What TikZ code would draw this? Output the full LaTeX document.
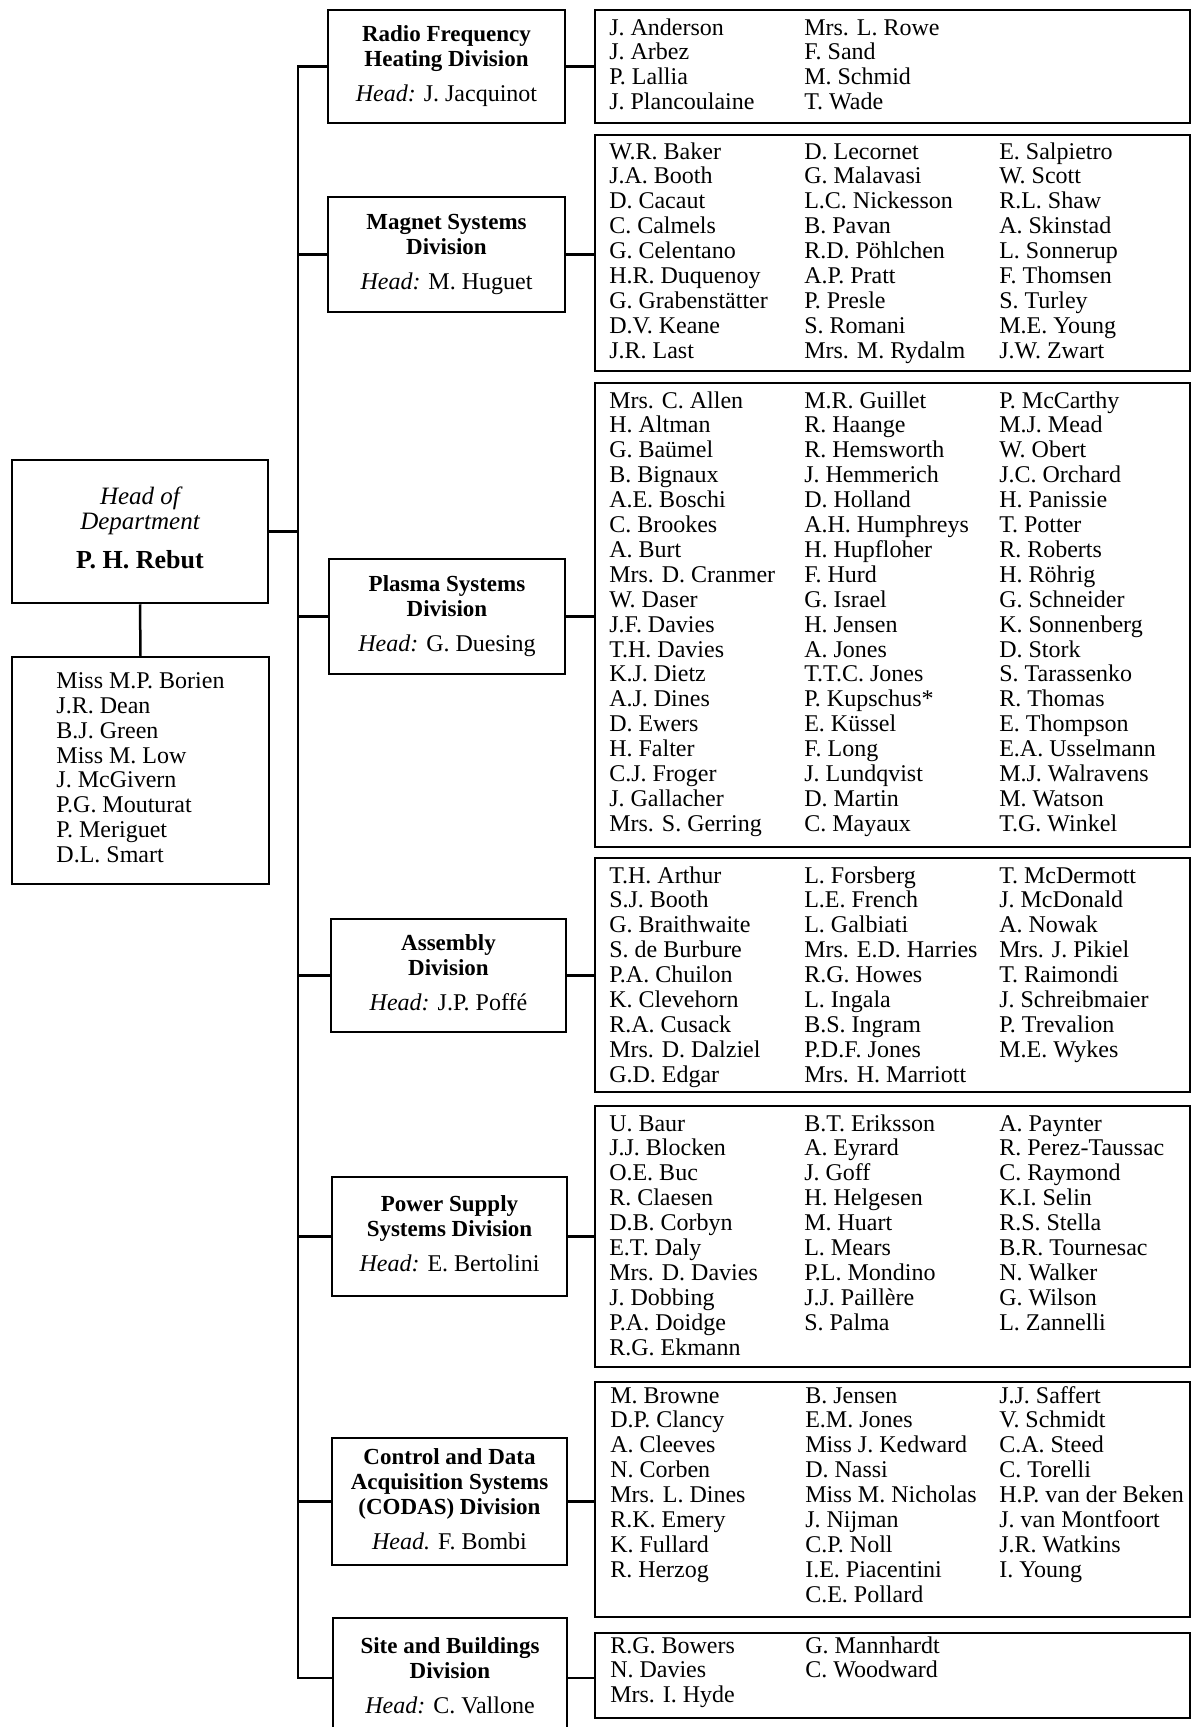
\documentclass[tikz,border=0pt]{standalone}
\usepackage{fontspec}
\setmainfont{Liberation Serif}
\newcommand\namecol[1]{\begin{tabular}[t]{@{}l@{}}#1\end{tabular}}
\newcommand\divhead[2]{\begin{tabular}{@{}c@{}}#1\\[10pt]\normalfont\fontsize{24}{25}\selectfont #2\end{tabular}}
\begin{document}
\begin{tikzpicture}[x=1pt,y=-1pt,line width=2.5pt,
  divbox/.style={draw,inner sep=0pt,minimum width=237pt,font=\fontsize{23}{25}\selectfont\bfseries},
  listbox/.style={draw,inner sep=0pt,minimum width=595pt},
  listtxt/.style={anchor=base west,inner sep=0pt,font=\fontsize{24}{24.9}\selectfont},
  link/.style={line width=2.5pt}]
\useasboundingbox (0,0) rectangle (1192,1727);
\clip (0,0) rectangle (1192,1727);

% Head of department and staff
\node[draw,inner sep=0pt,minimum width=256pt,minimum height=143pt,font=\fontsize{25}{25}\selectfont] (head) at (140,531.5)
  {\begin{tabular}{@{}c@{}}\itshape Head of\\ \itshape Department\\[13pt] \fontsize{26}{25}\selectfont\bfseries P. H. Rebut\end{tabular}};
\node[draw,inner sep=0pt,minimum width=257pt,minimum height=227pt,font=\fontsize{24}{24.8}\selectfont] (staff) at (140.5,770.5)
  {\begin{tabular}{@{}l@{}}Miss M.P. Borien\\J.R. Dean\\B.J. Green\\Miss M. Low\\J. McGivern\\P.G. Mouturat\\P. Meriguet\\D.L. Smart\end{tabular}};

% Divisions
\node[divbox,minimum height=113pt] (rf) at (446.5,66.5)
  {\divhead{Radio Frequency\\Heating Division}{\textit{Head:} J. Jacquinot}};
\node[divbox,minimum height=115pt] (mag) at (446.5,254.5)
  {\divhead{Magnet Systems\\Division}{\textit{Head:} M. Huguet}};
\node[divbox,minimum height=115pt,minimum width=236pt] (pla) at (447,616.5)
  {\divhead{Plasma Systems\\Division}{\textit{Head:} G. Duesing}};
\node[divbox,minimum height=113pt,minimum width=235pt] (asm) at (448.5,975.5)
  {\divhead{Assembly\\Division}{\textit{Head:} J.P. Poffé}};
\node[divbox,minimum height=119pt,minimum width=235pt] (pow) at (449.5,1236.5)
  {\divhead{Power Supply\\Systems Division}{\textit{Head:} E. Bertolini}};
\node[divbox,minimum height=127pt,minimum width=235pt] (cod) at (449.5,1501.5)
  {\divhead{Control and Data\\Acquisition Systems\\(CODAS) Division}{\textit{Head.} F. Bombi}};
\node[divbox,minimum height=120pt,minimum width=234pt] (site) at (450,1678)
  {\divhead{Site and Buildings\\Division}{\textit{Head:} C. Vallone}};

% List boxes
\node[listbox,minimum height=113pt] (rfl) at (892.5,66.5) {};
\node[listbox,minimum height=236pt] (magl) at (892.5,253) {};
\node[listbox,minimum height=464pt] (plal) at (892.5,615) {};
\node[listbox,minimum height=234pt] (asml) at (892.5,975) {};
\node[listbox,minimum height=261pt] (powl) at (892.5,1236.5) {};
\node[listbox,minimum height=235pt] (codl) at (892.5,1499.5) {};
\node[listbox,minimum height=85pt] (sitel) at (892.5,1675.5) {};

% List texts
\node[listtxt] (rfa) at (608,35) {\namecol{J. Anderson\\J. Arbez\\P. Lallia\\J. Plancoulaine}};
\node[listtxt] (rfb) at (803,35) {\namecol{Mrs. L. Rowe\\F. Sand\\M. Schmid\\T. Wade}};

\node[listtxt] (maga) at (608,159) {\namecol{W.R. Baker\\J.A. Booth\\D. Cacaut\\C. Calmels\\G. Celentano\\H.R. Duquenoy\\G. Grabenstätter\\D.V. Keane\\J.R. Last}};
\node[listtxt] (magb) at (803,159) {\namecol{D. Lecornet\\G. Malavasi\\L.C. Nickesson\\B. Pavan\\R.D. Pöhlchen\\A.P. Pratt\\P. Presle\\S. Romani\\Mrs. M. Rydalm}};
\node[listtxt] (magc) at (998,159) {\namecol{E. Salpietro\\W. Scott\\R.L. Shaw\\A. Skinstad\\L. Sonnerup\\F. Thomsen\\S. Turley\\M.E. Young\\J.W. Zwart}};

\node[listtxt] (plaa) at (608,408) {\namecol{Mrs. C. Allen\\H. Altman\\G. Baümel\\B. Bignaux\\A.E. Boschi\\C. Brookes\\A. Burt\\Mrs. D. Cranmer\\W. Daser\\J.F. Davies\\T.H. Davies\\K.J. Dietz\\A.J. Dines\\D. Ewers\\H. Falter\\C.J. Froger\\J. Gallacher\\Mrs. S. Gerring}};
\node[listtxt] (plab) at (803,408) {\namecol{M.R. Guillet\\R. Haange\\R. Hemsworth\\J. Hemmerich\\D. Holland\\A.H. Humphreys\\H. Hupfloher\\F. Hurd\\G. Israel\\H. Jensen\\A. Jones\\T.T.C. Jones\\P. Kupschus*\\E. Küssel\\F. Long\\J. Lundqvist\\D. Martin\\C. Mayaux}};
\node[listtxt] (plac) at (998,408) {\namecol{P. McCarthy\\M.J. Mead\\W. Obert\\J.C. Orchard\\H. Panissie\\T. Potter\\R. Roberts\\H. Röhrig\\G. Schneider\\K. Sonnenberg\\D. Stork\\S. Tarassenko\\R. Thomas\\E. Thompson\\E.A. Usselmann\\M.J. Walravens\\M. Watson\\T.G. Winkel}};

\node[listtxt] (asma) at (608,883) {\namecol{T.H. Arthur\\S.J. Booth\\G. Braithwaite\\S. de Burbure\\P.A. Chuilon\\K. Clevehorn\\R.A. Cusack\\Mrs. D. Dalziel\\G.D. Edgar}};
\node[listtxt] (asmb) at (803,883) {\namecol{L. Forsberg\\L.E. French\\L. Galbiati\\Mrs. E.D. Harries\\R.G. Howes\\L. Ingala\\B.S. Ingram\\P.D.F. Jones\\Mrs. H. Marriott}};
\node[listtxt] (asmc) at (998,883) {\namecol{T. McDermott\\J. McDonald\\A. Nowak\\Mrs. J. Pikiel\\T. Raimondi\\J. Schreibmaier\\P. Trevalion\\M.E. Wykes}};

\node[listtxt] (powa) at (608,1131) {\namecol{U. Baur\\J.J. Blocken\\O.E. Buc\\R. Claesen\\D.B. Corbyn\\E.T. Daly\\Mrs. D. Davies\\J. Dobbing\\P.A. Doidge\\R.G. Ekmann}};
\node[listtxt] (powb) at (803,1131) {\namecol{B.T. Eriksson\\A. Eyrard\\J. Goff\\H. Helgesen\\M. Huart\\L. Mears\\P.L. Mondino\\J.J. Paillère\\S. Palma}};
\node[listtxt] (powc) at (998,1131) {\namecol{A. Paynter\\R. Perez-Taussac\\C. Raymond\\K.I. Selin\\R.S. Stella\\B.R. Tournesac\\N. Walker\\G. Wilson\\L. Zannelli}};

\node[listtxt] (coda) at (609,1403) {\namecol{M. Browne\\D.P. Clancy\\A. Cleeves\\N. Corben\\Mrs. L. Dines\\R.K. Emery\\K. Fullard\\R. Herzog}};
\node[listtxt] (codb) at (804,1403) {\namecol{B. Jensen\\E.M. Jones\\Miss J. Kedward\\D. Nassi\\Miss M. Nicholas\\J. Nijman\\C.P. Noll\\I.E. Piacentini\\C.E. Pollard}};
\node[listtxt] (codc) at (998,1403) {\namecol{J.J. Saffert\\V. Schmidt\\C.A. Steed\\C. Torelli\\H.P. van der Beken\\J. van Montfoort\\J.R. Watkins\\I. Young}};

\node[listtxt] (sitea) at (609,1653) {\namecol{R.G. Bowers\\N. Davies\\Mrs. I. Hyde}};
\node[listtxt] (siteb) at (804,1653) {\namecol{G. Mannhardt\\C. Woodward}};

% Connectors
\coordinate (trunk) at (298,0);
\draw[link] (rf.west) -- (rf.west -| trunk) -- (site.west -| trunk) -- (site.west);
\foreach \d in {mag,pla,asm,pow,cod} \draw[link] (\d.west) -- (\d.west -| trunk);
\draw[link] (head.east) -- (head.east -| trunk);
\draw[link] (head.south) -- (staff.north);
\foreach \d in {rf,mag,pla,asm,pow,cod,site} \draw[link] (\d.east) -- (\d.east -| \d l.west);
\end{tikzpicture}
\end{document}
